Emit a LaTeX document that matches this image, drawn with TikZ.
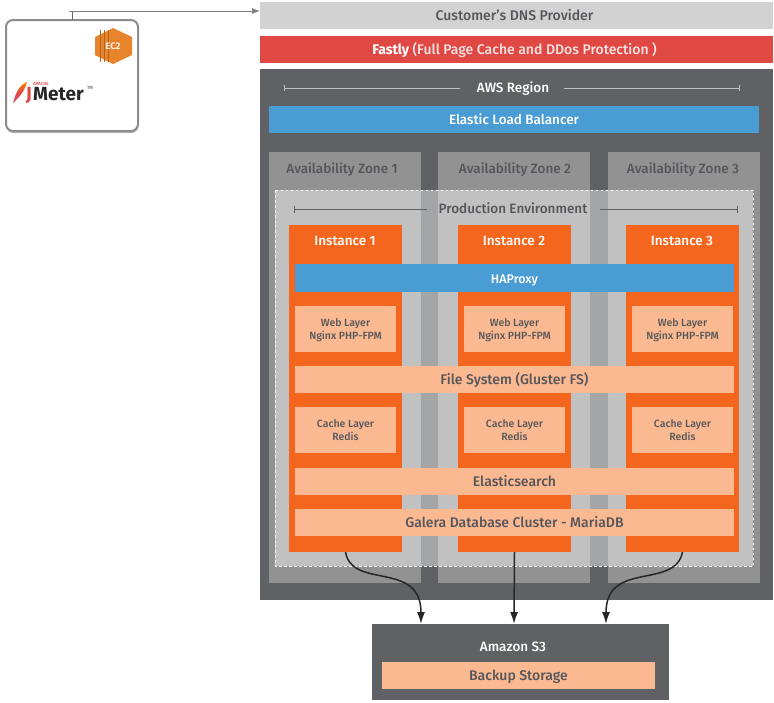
\documentclass[tikz,border=0pt]{standalone}
\usepackage{fontspec}
\setmainfont{Fira Sans Medium}[BoldFont=Fira Sans Bold]
\usetikzlibrary{positioning, shadows, arrows.meta}
\definecolor{darkgrey}{HTML}{606164}
\definecolor{midgrey}{HTML}{929293}
\definecolor{dnsgrey}{HTML}{D2D2D2}
\definecolor{labelgrey}{HTML}{55565A}
\definecolor{fastlyred}{HTML}{E04843}
\definecolor{elbblue}{HTML}{4A9DD4}
\definecolor{instorange}{HTML}{F4661E}
\definecolor{peach}{HTML}{FBB992}
\definecolor{ectwo}{HTML}{E8842C}
\tikzset{
  box/.style={anchor=north west, inner sep=0pt, outer sep=0pt, align=center, text height=10.5pt, text depth=0pt, font=\fontsize{13.5}{14}\selectfont},
  zone/.style={box, fill=midgrey, minimum width=152pt, minimum height=431pt},
  instance/.style={box, fill=instorange, minimum width=113pt, minimum height=327pt},
  layer/.style={box, fill=peach, text=labelgrey, minimum height=27pt, font=\fontsize{14}{14}\selectfont},
  small/.style={layer, minimum width=101pt, minimum height=46pt, text height=, text depth=-2pt, font=\fontsize{10.5}{13.5}\selectfont},
  lbl/.style={inner sep=0pt, text height=10pt, text depth=0pt, font=\fontsize{13.5}{14}\selectfont},
  flow/.style={-{Latex[length=12pt, width=8pt]}, line width=1.5pt, draw=black!85}
}
\begin{document}
\begin{tikzpicture}[x=1pt, y=-1pt]
    \useasboundingbox (0,0) rectangle (774,702);

    % top bars
    \node [box, fill=dnsgrey, text=labelgrey, minimum width=513pt, minimum height=27pt, font=\fontsize{14}{14}\selectfont] (dns) at (260,2) {\hspace*{-4pt}Customer's DNS Provider};
    \node [box, fill=fastlyred, text=white, minimum width=513pt, minimum height=27pt, font=\fontsize{14}{14}\selectfont] (fastly) at (260,36) {\hspace*{-4pt}\textbf{Fastly} {\color{white!85!fastlyred}(Full Page Cache and DDos Protection )}};
    \node [box, fill=darkgrey, minimum width=513pt, minimum height=531pt] (region) at (260,69) {};
    \node [box, fill=elbblue, text=white, minimum width=490pt, minimum height=27pt] (elb) at (269,106) {Elastic Load Balancer};

    \node [lbl, text=white] (awslbl) at (513,87) {AWS Region};
    \coordinate (awsl) at (284,88);
    \coordinate (awsr) at (740,88);
    \draw [|-, white!75!black, line width=.8pt] (awsl) -- (460,88);
    \draw [|-, white!75!black, line width=.8pt] (awsr) -- (564,88);

    % availability zones
    \node [zone] (az1) at (269,152) {};
    \node [zone] (az2) at (438,152) {};
    \node [zone] (az3) at (608,152) {};
    \node [lbl, text=labelgrey] (az1lbl) at (342,168) {Availability Zone 1};
    \node [lbl, text=labelgrey] (az2lbl) at (515,168) {Availability Zone 2};
    \node [lbl, text=labelgrey] (az3lbl) at (683,168) {Availability Zone 3};

    % production environment
    \fill [white, fill opacity=.43] (275,190) rectangle (753,566);
    \draw [white, line width=1pt, dash pattern=on 2.5pt off 2.5pt] (275,190) rectangle (753,566);
    \node [lbl, text=labelgrey] (prodlbl) at (513,208) {Production Environment};
    \coordinate (prodl) at (294,209);
    \coordinate (prodr) at (738,209);
    \draw [|-, darkgrey, line width=1pt] (prodl) -- (427,209);
    \draw [|-, darkgrey, line width=1pt] (prodr) -- (600,209);

    % instances
    \node [instance] (inst1) at (289,225) {};
    \node [instance] (inst2) at (458,225) {};
    \node [instance] (inst3) at (626,225) {};
    \node [lbl, text=white] (inst1lbl) at (345,240) {Instance 1};
    \node [lbl, text=white] (inst2lbl) at (514,240) {Instance 2};
    \node [lbl, text=white] (inst3lbl) at (682,240) {Instance 3};

    \node [box, fill=elbblue, text=white, minimum width=439pt, minimum height=28pt, font=\fontsize{12.5}{14}\selectfont] (haproxy) at (295,264) {HAProxy};

    \node [small] (web1) at (295,306) {Web Layer\\Nginx PHP-FPM};
    \node [small] (web2) at (464,306) {Web Layer\\Nginx PHP-FPM};
    \node [small] (web3) at (632,306) {Web Layer\\Nginx PHP-FPM};
    \node [layer, minimum width=439pt] (files) at (295,366) {File System (Gluster FS)};
    \node [small] (cache1) at (295,407) {Cache Layer\\Redis};
    \node [small] (cache2) at (464,407) {Cache Layer\\Redis};
    \node [small] (cache3) at (632,407) {Cache Layer\\Redis};
    \node [layer, minimum width=439pt] (elastic) at (295,468) {Elasticsearch};
    \node [layer, minimum width=439pt] (galera) at (295,509) {Galera Database Cluster - MariaDB};

    % backup
    \node [box, fill=darkgrey, minimum width=297pt, minimum height=76pt] (s3) at (372,624) {};
    \node [lbl, text=white] (s3lbl) at (513,646) {Amazon S3};
    \node [layer, minimum width=273pt] (backup) at (382,662) {Backup Storage};
    \coordinate (s3a) at (421,624);
    \coordinate (s3b) at (514,624);
    \coordinate (s3c) at (606,624);
    \draw [flow] (inst1.south) .. controls (352,590) and (421,560) .. (s3a);
    \draw [flow] (inst2.south) -- (s3b);
    \draw [flow] (inst3.south) .. controls (675,590) and (606,560) .. (s3c);

    % load generator
    \node [box, draw=black!45, line width=2pt, fill=white, rounded corners=7pt, minimum width=132pt, minimum height=111pt, drop shadow={shadow xshift=0.5pt, shadow yshift=-2pt, opacity=.6}] (jmeter) at (6,20) {};
    \coordinate (stub) at (72,11);
    \coordinate (stubl) at (69,11);
    \draw [black!60, line width=.8pt] (jmeter.north) -- (stub);
    \draw [-{Latex[length=8pt, width=6pt]}, black!50, line width=.8pt] (stubl) -- (dns.west |- stub);

    % ec2 icon
    \fill [ectwo] (95,37) -- (113,28) -- (132,37) -- (132,55) -- (113,64) -- (95,55) -- cycle;
    \foreach \x in {100,104,108}
      \fill [ectwo!75!black] (\x,30) rectangle (\x+1,62);
    \node [lbl, text=white!85!ectwo, text height=6.5pt, font=\fontsize{9.5}{10}\selectfont\bfseries] (ec2) at (113,46) {EC2};

    % jmeter logo
    \shade [top color=orange, bottom color=purple!70!white, middle color=fastlyred] (27,82) .. controls (21,84) and (16,91) .. (13,103) .. controls (20,97) and (25,90) .. (27,82) -- cycle;
    \node [lbl, text=fastlyred, text height=3pt, font=\fontsize{4.5}{6}\selectfont] (apache) at (41,83.5) {APACHE};
    \node [lbl, text=fastlyred, font=\fontsize{19}{20}\selectfont\bfseries] (jlet) at (29,95) {J};
    \node [lbl, text=black!85, font=\fontsize{19}{20}\selectfont\bfseries, anchor=west] (meter) at (33,95) {Meter};
    \node [lbl, text=black!60, text height=3pt, font=\fontsize{4.5}{5}\selectfont] (tm) at (90,88) {TM};
\end{tikzpicture}
\end{document}
